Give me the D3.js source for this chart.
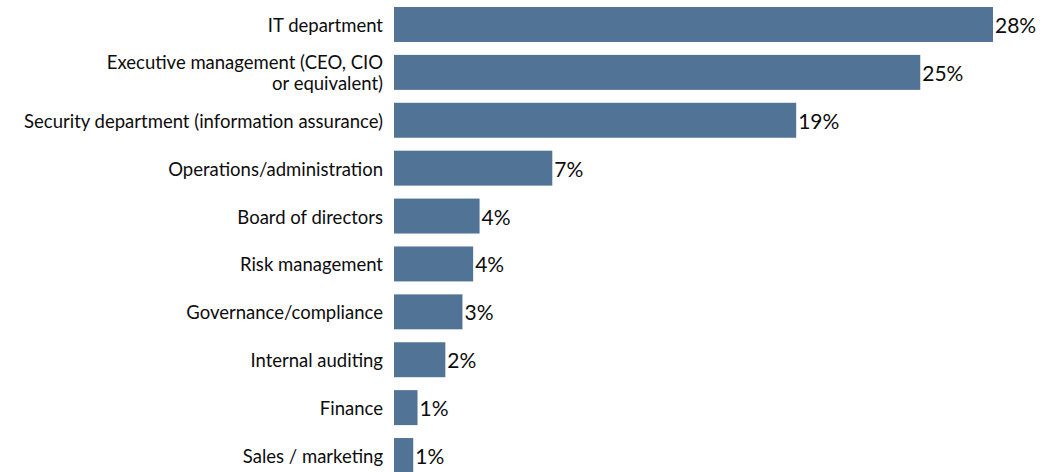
<!DOCTYPE html>
<html>
<head>
<meta charset="utf-8">
<script src="https://cdn.jsdelivr.net/npm/d3@7"></script>
<style>
  html, body { margin: 0; padding: 0; background: #fff; }
  svg { display: block; }
  text { font-family: Lato, "Open Sans", sans-serif; fill: #0d0d0d; }
</style>
</head>
<body>
<svg id="chart" width="1048" height="472"></svg>
<script>
// Who is responsible for security decisions (share of respondents, %)
const categories = [
  ["IT department"],
  ["Executive management (CEO, CIO", "or equivalent)"],
  ["Security department (information assurance)"],
  ["Operations/administration"],
  ["Board of directors"],
  ["Risk management"],
  ["Governance/compliance"],
  ["Internal auditing"],
  ["Finance"],
  ["Sales / marketing"]
];
const shares = [28.0, 24.6, 18.8, 7.4, 4.0, 3.7, 3.2, 2.4, 1.1, 0.9];

const svg = d3.select("#chart");
const barLeft = 394;

const keys = categories.map((c, i) => i);
const y = d3.scaleBand()
  .domain(keys)
  .range([7, 473])
  .paddingInner(0.27)
  .paddingOuter(0);

const x = d3.scaleLinear()
  .domain([0, 28])
  .range([barLeft, 993]);

const fmt = v => d3.format(".0f")(v) + "%";

// bars
svg.append("g")
  .selectAll("rect")
  .data(shares)
  .join("rect")
  .attr("x", x(0))
  .attr("y", (d, i) => y(i))
  .attr("width", d => x(d) - x(0))
  .attr("height", y.bandwidth())
  .attr("fill", "#517496");

// value labels
svg.append("g")
  .selectAll("text")
  .data(shares)
  .join("text")
  .attr("x", d => x(d) + 2)
  .attr("y", (d, i) => y(i) + y.bandwidth() / 2 + 8.5)
  .attr("font-size", 21)
  .text(d => fmt(d));

// category labels (right-aligned, possibly wrapped)
const lh = 21;
const labels = svg.append("g")
  .selectAll("text")
  .data(categories)
  .join("text")
  .attr("text-anchor", "end")
  .attr("font-size", 18.5);

labels.each(function(lines, i) {
  const cy = y(i) + y.bandwidth() / 2;
  const start = cy + 7.5 - (lines.length - 1) * lh / 2;
  d3.select(this).selectAll("tspan")
    .data(lines)
    .join("tspan")
    .attr("x", barLeft - 11)
    .attr("y", (d, j) => start + j * lh)
    .text(d => d);
});
</script>
</body>
</html>
